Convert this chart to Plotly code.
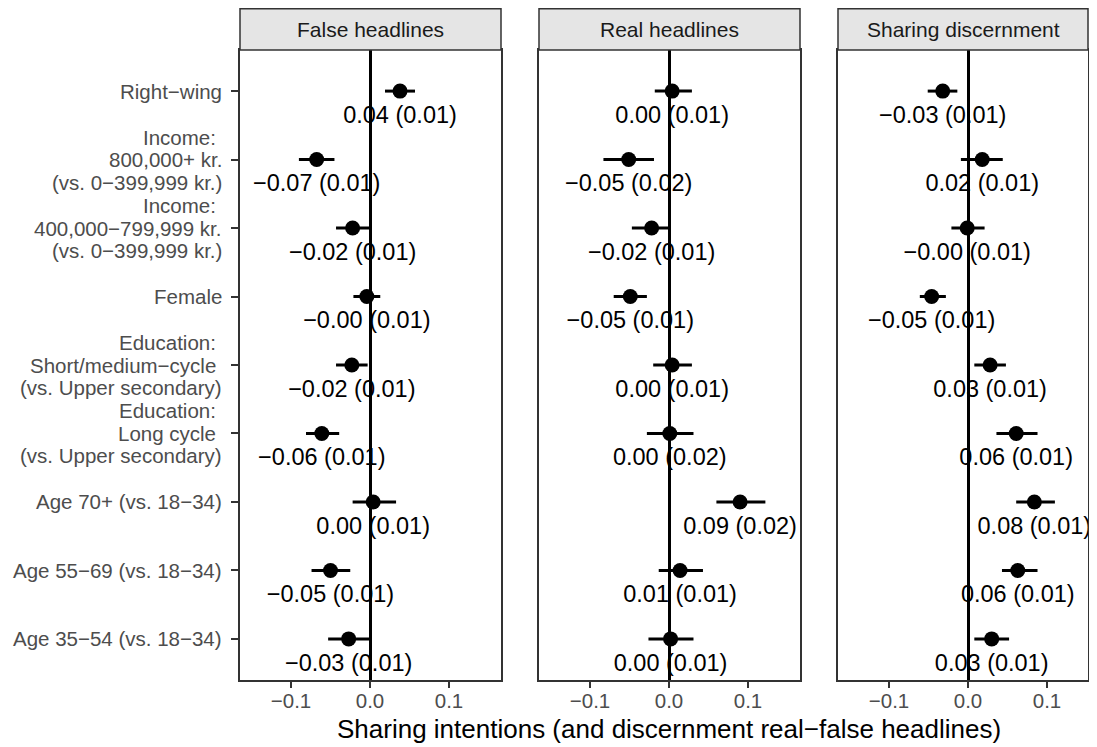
import plotly.graph_objects as go

# ---------------- data ----------------
categories = [
    ["Right\u2212wing"],
    ["Income:\u00a0", "800,000+ kr.", "(vs. 0\u2212399,999 kr.)"],
    ["Income:\u00a0", "400,000\u2212799,999 kr.", "(vs. 0\u2212399,999 kr.)"],
    ["Female"],
    ["Education:\u00a0", "Short/medium\u2212cycle\u00a0", "(vs. Upper secondary)"],
    ["Education:\u00a0", "Long cycle\u00a0", "(vs. Upper secondary)"],
    ["Age 70+ (vs. 18\u221234)"],
    ["Age 55\u221269 (vs. 18\u221234)"],
    ["Age 35\u221254 (vs. 18\u221234)"],
]

panel_titles = ["False headlines", "Real headlines", "Sharing discernment"]

false_est = [0.038, -0.0675, -0.022, -0.004, -0.023, -0.061, 0.004, -0.050, -0.027]
false_lo = [0.019, -0.090, -0.043, -0.021, -0.043, -0.081, -0.022, -0.074, -0.053]
false_hi = [0.057, -0.045, 0.000, 0.013, -0.003, -0.039, 0.033, -0.025, -0.001]
false_se = [0.01, 0.01, 0.01, 0.01, 0.01, 0.01, 0.01, 0.01, 0.01]

real_est = [0.004, -0.051, -0.022, -0.049, 0.004, 0.001, 0.090, 0.014, 0.002]
real_lo = [-0.018, -0.083, -0.047, -0.070, -0.020, -0.028, 0.060, -0.013, -0.026]
real_hi = [0.029, -0.019, 0.002, -0.028, 0.029, 0.031, 0.122, 0.043, 0.031]
real_se = [0.01, 0.02, 0.01, 0.01, 0.01, 0.02, 0.02, 0.01, 0.01]

disc_est = [-0.032, 0.018, -0.001, -0.046, 0.028, 0.061, 0.084, 0.063, 0.030]
disc_lo = [-0.051, -0.009, -0.021, -0.061, 0.008, 0.036, 0.061, 0.043, 0.008]
disc_hi = [-0.0135, 0.044, 0.021, -0.028, 0.048, 0.088, 0.110, 0.088, 0.052]
disc_se = [0.01, 0.01, 0.01, 0.01, 0.01, 0.01, 0.01, 0.01, 0.01]

x_tickvals = [-0.1, 0.0, 0.1]
x_ticktext = ["\u22120.1", "0.0", "0.1"]
x_title = "Sharing intentions (and discernment real\u2212false headlines)"

series = [
    (false_est, false_lo, false_hi, false_se),
    (real_est, real_lo, real_hi, real_se),
    (disc_est, disc_lo, disc_hi, disc_se),
]

# ---------------- layout geometry (screen px, page body has 8px margin) ----------------
OFF = 8
SCREEN_W, SCREEN_H = 1097, 747
W, H = SCREEN_W - OFF, SCREEN_H - OFF
VISIBLE_RIGHT = SCREEN_W - OFF  # content past this is not shown on the page

def fx(px):  # screen x -> figure x
    return px - OFF

def fy(px):
    return px - OFF

ML = fx(240)
MR = 0
MT = 0
panel_bottom = fy(680)
panel_top = fy(50)
strip_top = fy(8)
MB = H - panel_bottom
PW = W - ML - MR
PH = H - MT - MB

def paper_x(px_fig):
    return (px_fig - ML) / PW

def paper_y(py_fig):
    return (H - MB - py_fig) / PH

PX_PER_UNIT = 790.0
zero_px = [fx(370), fx(669), fx(968)]

FONT = "Liberation Sans, Arial, sans-serif"
TICK_COLOR = "#4D4D4D"
BORDER = "#333333"
LINE_H = 22.5

n = len(categories)
ypos = [n - i for i in range(n)]
label_offset = 0.38

fig = go.Figure()
ydom = [0, paper_y(panel_top)]

for k, (est, lo, hi, se) in enumerate(series):
    left = zero_px[k] - 130
    right = min(zero_px[k] + 131, fx(VISIBLE_RIGHT) - 1)
    xr = [(left - zero_px[k]) / PX_PER_UNIT, (right - zero_px[k]) / PX_PER_UNIT]
    dom = [paper_x(left), paper_x(right)]
    xa = "x" if k == 0 else f"x{k+1}"
    ya = "y" if k == 0 else f"y{k+1}"

    fig.add_trace(go.Scatter(
        x=est, y=ypos, mode="markers",
        marker=dict(color="black", size=15),
        error_x=dict(type="data", symmetric=False,
                     array=[h - e for h, e in zip(hi, est)],
                     arrayminus=[e - l for e, l in zip(est, lo)],
                     color="black", thickness=3, width=0),
        xaxis=xa, yaxis=ya, showlegend=False, hoverinfo="skip",
    ))
    labels = [f"{e:.2f} ({s:.2f})".replace("-", "\u2212") for e, s in zip(est, se)]
    fig.add_trace(go.Scatter(
        x=est, y=[p - label_offset for p in ypos], mode="text", text=labels,
        textposition="middle center",
        textfont=dict(family=FONT, size=23.5, color="black"),
        xaxis=xa, yaxis=ya, showlegend=False, hoverinfo="skip", cliponaxis=False,
    ))

    fig.update_layout(**{
        ("xaxis" if k == 0 else f"xaxis{k+1}"): dict(
            domain=dom, range=xr, anchor=ya, showgrid=False,
            showline=True, mirror=True, linecolor=BORDER, linewidth=1.5,
            zeroline=True, zerolinecolor="black", zerolinewidth=2.6,
            ticks="outside", ticklen=6, tickwidth=1.5, tickcolor=BORDER,
            tickvals=x_tickvals, ticktext=x_ticktext,
            ticklabelstandoff=-4,
            tickfont=dict(family=FONT, size=20.5, color=TICK_COLOR),
        ),
        ("yaxis" if k == 0 else f"yaxis{k+1}"): dict(
            domain=ydom, range=[0.4, n + 0.6], anchor=xa, showgrid=False,
            showline=True, mirror=True, linecolor=BORDER, linewidth=1.5,
            zeroline=False,
            tickvals=ypos if k == 0 else [],
            ticks="outside" if k == 0 else "", ticklen=7, tickwidth=1.5, tickcolor=BORDER,
            showticklabels=False,
        ),
    })

    # strip
    fig.add_shape(type="rect", xref="paper", yref="paper",
                  x0=dom[0], x1=dom[1], y0=ydom[1], y1=paper_y(strip_top + 0.75),
                  fillcolor="#E5E5E5", line=dict(color=BORDER, width=1.5), layer="above")
    fig.add_annotation(x=(dom[0] + dom[1]) / 2, y=paper_y((strip_top + panel_top) / 2),
                       xref="paper", yref="paper", text=panel_titles[k], showarrow=False,
                       font=dict(family=FONT, size=21, color="#1A1A1A"),
                       xanchor="center", yanchor="middle")

# y category labels, one line each, right aligned next to the ticks
for i, lines in enumerate(categories):
    m = len(lines)
    for j, line in enumerate(lines):
        fig.add_annotation(
            x=0, xref="paper", y=ypos[i], yref="y",
            xanchor="right", yanchor="middle", xshift=-16,
            yshift=((m - 1) / 2 - j) * LINE_H,
            text=line, showarrow=False,
            font=dict(family=FONT, size=20.5, color=TICK_COLOR),
        )

fig.add_annotation(x=paper_x(fx(669)), y=0, xref="paper", yref="paper",
                   yshift=-(fy(729) - panel_bottom),
                   text=x_title, showarrow=False, xanchor="center", yanchor="middle",
                   font=dict(family=FONT, size=26, color="black"))

fig.update_layout(
    width=W, height=H,
    margin=dict(l=ML, r=MR, t=MT, b=MB, autoexpand=False),
    paper_bgcolor="white", plot_bgcolor="white",
    font=dict(family=FONT),
)

fig.write_html("out.html")
